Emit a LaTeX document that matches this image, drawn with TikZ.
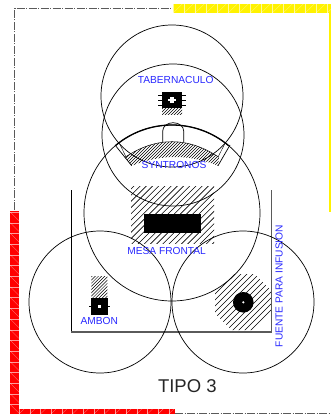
\documentclass[tikz,border=0pt]{standalone}
\usepackage{fontspec}
\setmainfont{Liberation Sans}
\usetikzlibrary{positioning}

\definecolor{txtblue}{RGB}{40,40,255}
\definecolor{walls}{RGB}{90,90,90}

\newcommand{\hatchup}[4]{% from x, number of lines, step, width
	\foreach \i in {0,...,#2}{
		\draw[line width=#4] (#1+#3*\i,0) -- +(-420,420);
	}
}

\begin{document}
\begin{tikzpicture}[x=1pt,y=-1pt,
                    zone/.style={circle,draw,line width=0.7pt,inner sep=0pt,outer sep=0pt},
                    solidbox/.style={fill=black,inner sep=0pt,outer sep=0pt},
                    name label/.style={text=txtblue,inner sep=0pt,font=\fontsize{10.2}{11}\selectfont},
                    trace/.style={draw=walls,line width=0.9pt,dash pattern=on 8pt off 1.5pt on 1pt off 1.5pt},
                    tick/.style={line width=0.3pt}]

\useasboundingbox (0,0) rectangle (331,414);

% site plan border
\draw[trace] (14.7,210) -- (14.7,8) -- (173,8);
\draw[trace] (175,413) -- (331,413);

\fill[yellow] (173.3,4) rectangle (331,13);
\fill[yellow] (329,13) rectangle (331,212);
\foreach \i in {0,...,14}{
	\draw[white,opacity=0.6,line width=0.25pt] (173.3+11*\i,4) -- +(0,9);
	\draw[white,opacity=0.6,line width=0.2pt] (173.3+11*\i,13) -- +(9,-9);
}

\fill[red] (10.3,210.7) rectangle (19,414);
\fill[red] (19,408.7) rectangle (175,414);
\foreach \i in {0,...,18}{
	\draw[white,opacity=0.6,line width=0.25pt] (10.3,212+10.7*\i) -- +(8.7,0);
	\draw[white,opacity=0.6,line width=0.2pt] (10.3,212+10.7*\i) -- +(8.7,8.7);
}
\foreach \i in {0,...,14}{
	\draw[white,opacity=0.6,line width=0.25pt] (19+10.7*\i,408.7) -- +(0,5.3);
	\draw[white,opacity=0.6,line width=0.2pt] (19+10.7*\i,414) -- +(5.3,-5.3);
}

% hatched floor areas
\begin{scope}
	\clip (131,186) rectangle (214,243);
	\hatchup{320}{30}{6.2}{0.6pt}
\end{scope}
\begin{scope}
	\clip (231.5,274) -- (254.5,274) -- (271,290.5) -- (271,313.5)
		-- (254.5,330) -- (231.5,330) -- (215,313.5) -- (215,290.5) -- cycle;
	\hatchup{485}{22}{6}{0.6pt}
\end{scope}
\begin{scope}
	\clip (91.3,276.5) rectangle (107.3,298);
	\hatchup{365}{18}{3.2}{0.5pt}
\end{scope}
\begin{scope}
	\clip (162,108) rectangle (182,115);
	\hatchup{268}{16}{3}{0.5pt}
\end{scope}
\begin{scope}
	\clip (125,157.3) .. controls (156,136.5) and (188,136.5) .. (219,157.3)
		-- (218,165.7) .. controls (189,154.1) and (161,154.1) .. (131.7,165.7) -- cycle;
	\hatchup{260}{45}{3}{0.5pt}
\end{scope}

\node[solidbox,minimum width=57pt,minimum height=19.3pt] (mesa) at (172.5,223.7) {};
\node[solidbox,minimum width=16.7pt,minimum height=17pt] (ambon) at (99.3,306.5) {};
\node[solidbox,minimum width=20.6pt,minimum height=16.6pt] (tab) at (172,100) {};
\node[solidbox,circle,minimum size=20.6pt] (fuente) at (243.3,302.3) {};

\node[fill=white,inner sep=0pt,minimum size=3pt] (ambonc) at (ambon) {};
\node[fill=white,circle,inner sep=0pt,minimum size=2.4pt] (fuentec) at (fuente) {};
\node[fill=white,inner sep=0pt,minimum width=8pt,minimum height=2.4pt] (tabh) at (tab) {};
\node[fill=white,inner sep=0pt,minimum width=3.6pt,minimum height=5.4pt] (tabv) at (tab) {};

\foreach \d in {-5,0,5}{
	\draw[tick] (tab.west)++(0,\d) -- +(-3.4,0);
	\draw[tick] (tab.east)++(0,\d) -- +(3.4,0);
}
\draw[tick] (ambon.west) -- +(-2,0);
\draw[tick] (ambon.east) -- +(2,0);

% walls
\draw[line width=0.7pt] (71.3,190) -- (71.3,332);
\draw[walls,line width=1.2pt] (71.3,332) -- (271.7,332) -- (271.7,190);

% circles of view
\node[zone,minimum size=142pt] (ztab) at (172,96) {};
\node[zone,minimum size=142pt] (zsyn) at (173,135) {};
\node[zone,minimum size=176pt] (zmesa) at (172,213) {};
\node[zone,minimum size=142pt] (zambon) at (100,302) {};
\node[zone,minimum size=142pt] (zfuente) at (243,302) {};

% synthronos
\draw[line width=1.3pt] (zmesa.130) arc[start angle=130,end angle=50,radius=88pt];
\draw[line width=0.7pt] (162.7,142) -- (162.7,131) arc[start angle=180,end angle=0,x radius=10.5pt,y radius=8.3pt] -- (183.7,142);
\draw[line width=0.5pt] (125,157.3) .. controls (156,136.5) and (188,136.5) .. (219,157.3);
\draw[line width=0.7pt] (115,145) -- (131.7,165.7);
\draw[line width=0.7pt] (230,145) -- (218,165.7);
\draw[line width=0.4pt] (119.5,143.5) -- (126,157);
\draw[line width=0.4pt] (225,143.5) -- (218,157);

% labels
\node[name label] (ltab) at (175.7,80) {TABERNACULO};
\node[name label] (lsyn) at (174,165) {SYNTRONOS};
\node[name label] (lmesa) at (166.6,251) {MESA FRONTAL};
\node[name label,below=2.3pt of ambon] (lambon) {AMBON};
\node[name label,rotate=90] (lfuente) at (279,286) {FUENTE PARA INFUSION};
\node[inner sep=0pt,text=black!85,font=\fontsize{18.5}{20}\selectfont] (ltipo) at (187.3,385.7) {TIPO 3};

\end{tikzpicture}
\end{document}
